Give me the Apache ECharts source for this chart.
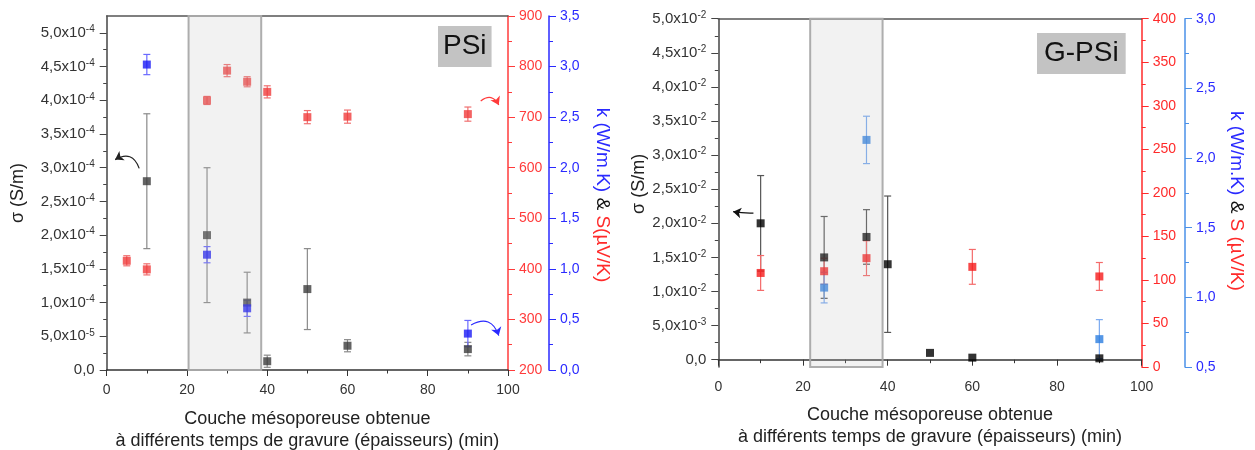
<!DOCTYPE html>
<html><head><meta charset="utf-8">
<script src="https://cdn.jsdelivr.net/npm/echarts@6/dist/echarts.min.js"></script>
<style>html,body{margin:0;padding:0;background:#fff}#c{width:1255px;height:450px}</style>
</head><body><div id="c"></div>
<script>
// ---------- PSi (left panel) ----------
const psiSigmaX = [10, 25, 35, 40, 50, 60, 90];
const psiSigma = [2.8e-4, 2.0e-4, 1.0e-4, 0.13e-4, 1.2e-4, 0.36e-4, 0.31e-4];
const psiSigmaErr = [1.0e-4, 1.0e-4, 0.45e-4, 0.09e-4, 0.6e-4, 0.09e-4, 0.1e-4];
const psiSX = [5, 10, 25, 30, 35, 40, 50, 60, 90];
const psiS = [416, 399, 733, 792, 770, 750, 700, 701, 706];
const psiSErr = [10, 11, 8, 12, 10, 12, 13, 13, 14];
const psiKX = [10, 25, 35, 90];
const psiK = [3.02, 1.14, 0.61, 0.36];
const psiKErr = [0.1, 0.08, 0.08, 0.13];
const psiRegion = [20.4, 38.5];
const psiSigmaTicks = [0, 0.5e-4, 1.0e-4, 1.5e-4, 2.0e-4, 2.5e-4, 3.0e-4, 3.5e-4, 4.0e-4, 4.5e-4, 5.0e-4];
const psiSigmaMinor = [0.25e-4, 0.75e-4, 1.25e-4, 1.75e-4, 2.25e-4, 2.75e-4, 3.25e-4, 3.75e-4, 4.25e-4, 4.75e-4];
const psiArrowSigma = [[8.1, 2.99e-4], [2.1, 3.12e-4]];
const psiArrowS = [[93.2, 732], [97.7, 724]];
const psiArrowK = [[90.8, 0.445], [97.7, 0.34]];

// ---------- G-PSi (right panel) ----------
const gSigmaX = [10, 25, 35, 40, 50, 60, 90];
const gSigma = [2.0e-2, 1.5e-2, 1.8e-2, 1.4e-2, 0.1e-2, 0.03e-2, 0.02e-2];
const gSigmaErr = [0.7e-2, 0.6e-2, 0.4e-2, 1.0e-2, 0, 0, 0];
const gSX = [10, 25, 35, 60, 90];
const gS = [108, 110, 125, 115, 104];
const gSErr = [20, 15, 20, 20, 16];
const gKX = [25, 35, 90];
const gK = [1.07, 2.13, 0.70];
const gKErr = [0.11, 0.17, 0.14];
const gRegion = [21.7, 38.8];
const gSigmaTicks = [0, 0.5e-2, 1.0e-2, 1.5e-2, 2.0e-2, 2.5e-2, 3.0e-2, 3.5e-2, 4.0e-2, 4.5e-2, 5.0e-2];
const gSigmaMinor = [0.25e-2, 0.75e-2, 1.25e-2, 1.75e-2, 2.25e-2, 2.75e-2, 3.25e-2, 3.75e-2, 4.25e-2, 4.75e-2];
const gArrowSigma = [[8.3, 2.15e-2], [3.5, 2.17e-2]];

const FONT = '"Liberation Sans", Arial, sans-serif';
const xTitle = 'Couche mésoporeuse obtenue\nà différents temps de gravure (épaisseurs) (min)';

function sci(v) {
  if (Math.abs(v) < 1e-12) return '{m|0,0}';
  const e = Math.floor(Math.log10(Math.abs(v)) + 1e-9);
  const m = v / Math.pow(10, e);
  return '{m|' + m.toFixed(1).replace('.', ',') + 'x10}{e|' + e + '}';
}
const sciRich = {
  m: { fontSize: 15, color: '#333', fontFamily: FONT },
  e: { fontSize: 10, color: '#333', fontFamily: FONT, padding: [0, 0, 7, 0] }
};
const comma1 = v => v.toFixed(1).replace('.', ',');

function errSeries(xs, ys, es, xi, yi, color) {
  const data = [];
  xs.forEach((x, i) => { if (es[i] > 0) data.push([x, ys[i] - es[i], ys[i] + es[i]]); });
  return {
    type: 'custom', xAxisIndex: xi, yAxisIndex: yi, z: 2, silent: true,
    data: data, encode: { x: 0, y: [1, 2] },
    renderItem: (p, api) => {
      const x = api.value(0), lo = api.value(1), hi = api.value(2);
      const a = api.coord([x, hi]), b = api.coord([x, lo]);
      const w = 3.5;
      const st = { stroke: color, lineWidth: 1.2 };
      return { type: 'group', children: [
        { type: 'line', shape: { x1: a[0], y1: a[1], x2: b[0], y2: b[1] }, style: st },
        { type: 'line', shape: { x1: a[0] - w, y1: a[1], x2: a[0] + w, y2: a[1] }, style: st },
        { type: 'line', shape: { x1: b[0] - w, y1: b[1], x2: b[0] + w, y2: b[1] }, style: st }
      ]};
    }
  };
}
function ptSeries(xs, ys, xi, yi, color) {
  return {
    type: 'scatter', xAxisIndex: xi, yAxisIndex: yi, z: 3, silent: true,
    symbol: 'rect', symbolSize: 8, itemStyle: { color: color },
    data: xs.map((x, i) => [x, ys[i]])
  };
}
function regionSeries(r, xi, yi, yRef) {
  return {
    type: 'custom', xAxisIndex: xi, yAxisIndex: yi, z: 5, silent: true,
    data: [[r[0], r[1]]],
    renderItem: (p, api) => {
      const cs = p.coordSys;
      const a = api.coord([api.value(0), yRef]), b = api.coord([api.value(1), yRef]);
      return { type: 'rect', shape: { x: a[0], y: cs.y, width: b[0] - a[0], height: cs.height },
        style: { fill: 'rgba(190,190,190,0.2)', stroke: 'rgba(170,170,170,0.95)', lineWidth: 2 } };
    }
  };
}
function arrowSeries(pts, xi, yi, color, curv) {
  return {
    type: 'lines', coordinateSystem: 'cartesian2d', xAxisIndex: xi, yAxisIndex: yi, z: 4, silent: true,
    symbol: ['none', 'arrow'], symbolSize: 8,
    lineStyle: { color: color, width: 1.2, curveness: curv, opacity: 1 },
    data: [{ coords: pts }]
  };
}
function xAxes(gi, gap) {
  return [{
    gridIndex: gi, type: 'value', position: 'bottom', min: 0, max: 100, interval: 20,
    axisLine: { lineStyle: { color: '#333', width: 1.5 } },
    axisTick: { length: 6, lineStyle: { color: '#333' } },
    minorTick: { show: true, splitNumber: 2, length: 3.5, lineStyle: { color: '#333' } },
    splitLine: { show: false },
    axisLabel: { fontSize: 14, color: '#333', margin: 13, fontFamily: FONT },
    name: xTitle, nameLocation: 'middle', nameGap: gap,
    nameTextStyle: { fontSize: 18, color: '#222', lineHeight: 22, fontFamily: FONT }
  }, {
    gridIndex: gi, type: 'value', position: 'top', min: 0, max: 100,
    axisLine: { show: true, onZero: false, lineStyle: { color: '#555', width: 1.5 } },
    axisTick: { show: false }, axisLabel: { show: false }, splitLine: { show: false }
  }];
}
function sigmaAxes(gi, min, max, ticks, minor, gap, pad) {
  return [{
    gridIndex: gi, type: 'value', position: 'left', min: min, max: max,
    axisLine: { show: true, onZero: false, lineStyle: { color: '#444', width: 1.5 } },
    axisTick: { show: true, customValues: ticks, length: 7, lineStyle: { color: '#444' } },
    axisLabel: { customValues: ticks, formatter: sci, rich: sciRich, margin: 12 },
    splitLine: { show: false },
    name: 'σ (S/m)', nameLocation: 'middle', nameGap: gap,
    nameTextStyle: { fontSize: 18, color: '#222', fontFamily: FONT, padding: pad }
  }, {
    gridIndex: gi, type: 'value', position: 'left', min: min, max: max,
    axisLine: { show: false },
    axisTick: { show: true, customValues: minor, length: 3.5, lineStyle: { color: '#444' } },
    axisLabel: { show: false }, splitLine: { show: false }
  }];
}
function rightAxis(gi, min, max, interval, offset, lineColor, labelColor, fmt, extra) {
  return Object.assign({
    gridIndex: gi, type: 'value', position: 'right', offset: offset, min: min, max: max, interval: interval,
    axisLine: { show: true, onZero: false, lineStyle: { color: lineColor, width: 1.5 } },
    axisTick: { length: 7, lineStyle: { color: lineColor } },
    minorTick: { show: true, splitNumber: 2, length: 4, lineStyle: { color: lineColor } },
    splitLine: { show: false }, minorSplitLine: { show: false },
    axisLabel: { fontSize: 14, color: labelColor, margin: 11, fontFamily: FONT, formatter: fmt }
  }, extra || {});
}
const titleRich = {
  b: { color: '#2a2aff', fontSize: 19, fontFamily: FONT },
  k: { color: '#111', fontSize: 19, fontFamily: FONT },
  r: { color: '#ff2a2a', fontSize: 19, fontFamily: FONT }
};

const chart = echarts.init(document.getElementById('c'), null, { renderer: 'canvas' });
const option = {
  animation: false,
  textStyle: { fontFamily: FONT },
  grid: [
    { left: 106.7, top: 16, width: 401.3, height: 354, containLabel: false, outerBoundsMode: 'none' },
    { left: 718.3, top: 18.7, width: 423.4, height: 348.3, containLabel: false, outerBoundsMode: 'none' }
  ],
  xAxis: [...xAxes(0, 38), ...xAxes(1, 37)],
  yAxis: [
    ...sigmaAxes(0, 0, 5.25e-4, psiSigmaTicks, psiSigmaMinor, 80, [0, 0, 0, 0]),
    rightAxis(0, 200, 900, 100, 0, '#ff3b3b', '#ff3b3b', v => String(v)),
    rightAxis(0, 0, 3.5, 0.5, 41, '#2a2aff', '#2a2aff', comma1, {
      name: '{b|k (W/m.K)} {k|&} {r|S(µV/K)}', nameLocation: 'middle', nameRotate: -90, nameGap: 44,
      nameTextStyle: { rich: titleRich, fontSize: 19, padding: [0, 0, 0, 4] }
    }),
    ...sigmaAxes(1, -0.107e-2, 5.0e-2, gSigmaTicks, gSigmaMinor, 68, [0, 0, 0, 18]),
    rightAxis(1, 0, 400, 50, 0, '#ff2a2a', '#ff2a2a', v => String(v)),
    rightAxis(1, 0.5, 3.0, 0.5, 43.3, '#4a90e8', '#2a2aff', comma1, {
      name: '{b|k (W/m.K)} {k|&} {r|S (µV/K)}', nameLocation: 'middle', nameRotate: -90, nameGap: 42,
      nameTextStyle: { rich: titleRich, fontSize: 19, padding: [0, 0, 0, 16] }
    })
  ],
  series: [
    regionSeries(psiRegion, 0, 0, 1e-4),
    errSeries(psiSigmaX, psiSigma, psiSigmaErr, 0, 0, '#8a8a8a'),
    ptSeries(psiSigmaX, psiSigma, 0, 0, '#3c3c3c'),
    errSeries(psiSX, psiS, psiSErr, 0, 2, '#f07070'),
    ptSeries(psiSX, psiS, 0, 2, '#f03c3c'),
    errSeries(psiKX, psiK, psiKErr, 0, 3, '#6a6aff'),
    ptSeries(psiKX, psiK, 0, 3, '#1a1af5'),
    arrowSeries(psiArrowSigma, 0, 0, '#222', -0.6),
    arrowSeries(psiArrowS, 0, 2, '#ff3b3b', 0.6),
    arrowSeries(psiArrowK, 0, 3, '#2a2aff', 0.6),

    regionSeries(gRegion, 2, 4, 1e-2),
    errSeries(gSigmaX, gSigma, gSigmaErr, 2, 4, '#555'),
    ptSeries(gSigmaX, gSigma, 2, 4, '#000'),
    errSeries(gSX, gS, gSErr, 2, 6, '#f46a6a'),
    ptSeries(gSX, gS, 2, 6, '#f51a1a'),
    errSeries(gKX, gK, gKErr, 2, 7, '#7aaaf0'),
    ptSeries(gKX, gK, 2, 7, '#2b7de0'),
    arrowSeries(gArrowSigma, 2, 4, '#111', 0.05)
  ],
  graphic: [
    { type: 'text', left: 438, top: 26, z: 10,
      style: { text: 'PSi', font: '28px "Liberation Sans", Arial, sans-serif', fill: '#111',
        backgroundColor: '#c3c3c3', padding: [6, 5, 7, 5] } },
    { type: 'text', left: 1037, top: 33, z: 10,
      style: { text: 'G-PSi', font: '28px "Liberation Sans", Arial, sans-serif', fill: '#111',
        backgroundColor: '#c3c3c3', padding: [6, 7, 7, 7] } }
  ]
};
chart.setOption(option);
</script>
</body></html>
